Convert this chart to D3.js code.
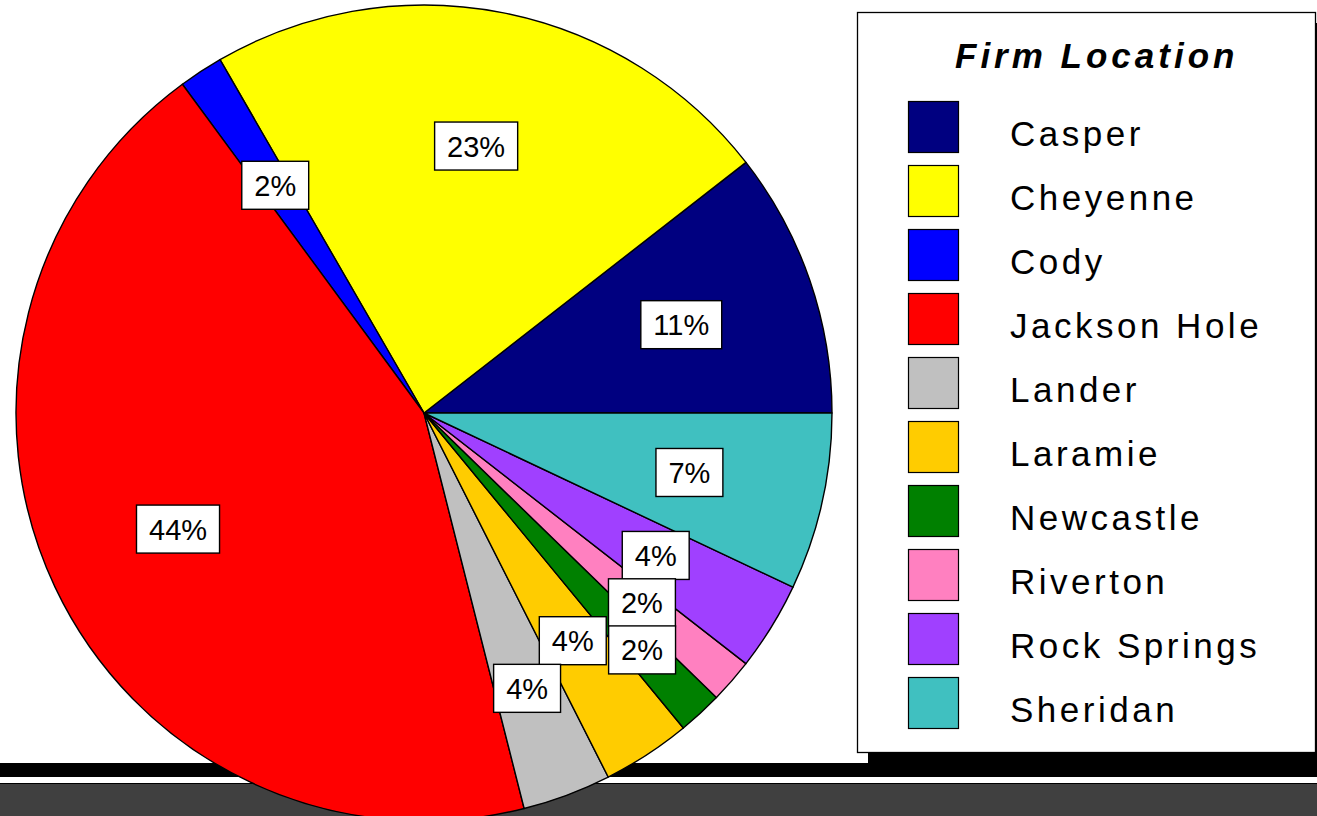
<!DOCTYPE html>
<html><head><meta charset="utf-8">
<script src="https://cdn.jsdelivr.net/npm/d3@7"></script>
<style>body{margin:0;background:#fff;overflow:hidden} svg{display:block}</style>
</head><body><svg id="c" width="1317" height="816"></svg>
<script>
// ---- data ----
const categories = ["Casper","Cheyenne","Cody","Jackson Hole","Lander","Laramie","Newcastle","Riverton","Rock Springs","Sheridan"];
const firmCounts = [6, 13, 1, 25, 2, 2, 1, 1, 2, 4];
const sliceColors = ["#000080","#FFFF00","#0000FF","#FF0000","#C0C0C0","#FFCC00","#008000","#FF80C0","#A040FF","#40C0C0"];
const legendTitle = "Firm Location";

// ---- layout ----
const W = 1317, H = 816;
const cx = 424, cy = 413, R = 408;
const font = "'Liberation Sans', Arial, Helvetica, sans-serif";
const svg = d3.select("#c");

// background bands
svg.append("rect").attr("x",0).attr("y",783).attr("width",W).attr("height",H-783).attr("fill","#404040");
svg.append("line").attr("x1",0).attr("x2",W).attr("y1",783.5).attr("y2",783.5).attr("stroke","#000").attr("stroke-width",1);
svg.append("rect").attr("x",0).attr("y",763).attr("width",W).attr("height",14).attr("fill","#000");

// legend box with shadow
const lg = {x:857, y:12, w:458, h:740, shadow:11};
svg.append("rect").attr("x",lg.x+lg.shadow).attr("y",lg.y+lg.shadow).attr("width",lg.w).attr("height",lg.h).attr("fill","#000");
svg.append("rect").attr("x",lg.x+0.5).attr("y",lg.y+0.5).attr("width",lg.w).attr("height",lg.h)
  .attr("fill","#fff").attr("stroke","#000").attr("stroke-width",1.3);

svg.append("text").attr("x",955).attr("y",68).text(legendTitle)
  .attr("font-family",font).attr("font-size",35).attr("font-weight","bold").attr("font-style","italic")
  .attr("letter-spacing","4px").attr("fill","#000");

const rowY = d3.scaleLinear().domain([0, categories.length-1]).range([101, 677]);
const leg = svg.append("g").selectAll("g").data(categories).join("g");
leg.append("rect").attr("x",908.5).attr("y",(d,i)=>rowY(i)+0.5).attr("width",50).attr("height",51)
  .attr("fill",(d,i)=>sliceColors[i]).attr("stroke","#000").attr("stroke-width",1.2);
leg.append("text").attr("x",1010).attr("y",(d,i)=>rowY(i)+45).text(d=>d)
  .attr("font-family",font).attr("font-size",35).attr("letter-spacing","3.5px").attr("fill","#000");

// pie
const pie = d3.pie().sort(null).startAngle(Math.PI/2).endAngle(Math.PI/2 - 2*Math.PI);
const arcs = pie(firmCounts);
const arc = d3.arc().innerRadius(0).outerRadius(R);
const g = svg.append("g").attr("transform",`translate(${cx},${cy})`);
g.selectAll("path").data(arcs).join("path")
  .attr("d",arc).attr("fill",(d,i)=>sliceColors[i])
  .attr("stroke","#000").attr("stroke-width",1.4).attr("stroke-linejoin","round");

// labels
const total = d3.sum(firmCounts);
const pct = v => Math.round(v/total*100) + "%";
const padX = 12.5, boxH = 48;
const lab = g.append("g");
const placed = [];
const overlaps = (a,b) => a.x0 < b.x1-1 && a.x1 > b.x0+1 && a.y0 < b.y1-1 && a.y1 > b.y0+1;
d3.range(arcs.length).reverse().forEach(i => {
  const a = arcs[i];
  const mid = (a.startAngle + a.endAngle)/2;
  const grp = lab.append("g");
  const rect = grp.append("rect");
  const t = grp.append("text").text(pct(a.value))
    .attr("font-family",font).attr("font-size",29).attr("text-anchor","middle").attr("fill","#000");
  const tw = t.node().getComputedTextLength();
  const bw = tw + 2*padX;
  let r = R*2/3, box;
  const mk = r => { const x = r*Math.sin(mid), y = -r*Math.cos(mid);
    return {x, y, x0:x-bw/2, x1:x+bw/2, y0:y-boxH/2, y1:y+boxH/2}; };
  box = mk(r);
  while (r < R && placed.some(p => overlaps(p, box))) { r += 1; box = mk(r); }
  placed.push(box);
  rect.attr("x",box.x0).attr("y",box.y0).attr("width",bw).attr("height",boxH)
    .attr("fill","#fff").attr("stroke","#000").attr("stroke-width",1.4);
  t.attr("x",box.x).attr("y",box.y+10.5);
});
</script></body></html>
